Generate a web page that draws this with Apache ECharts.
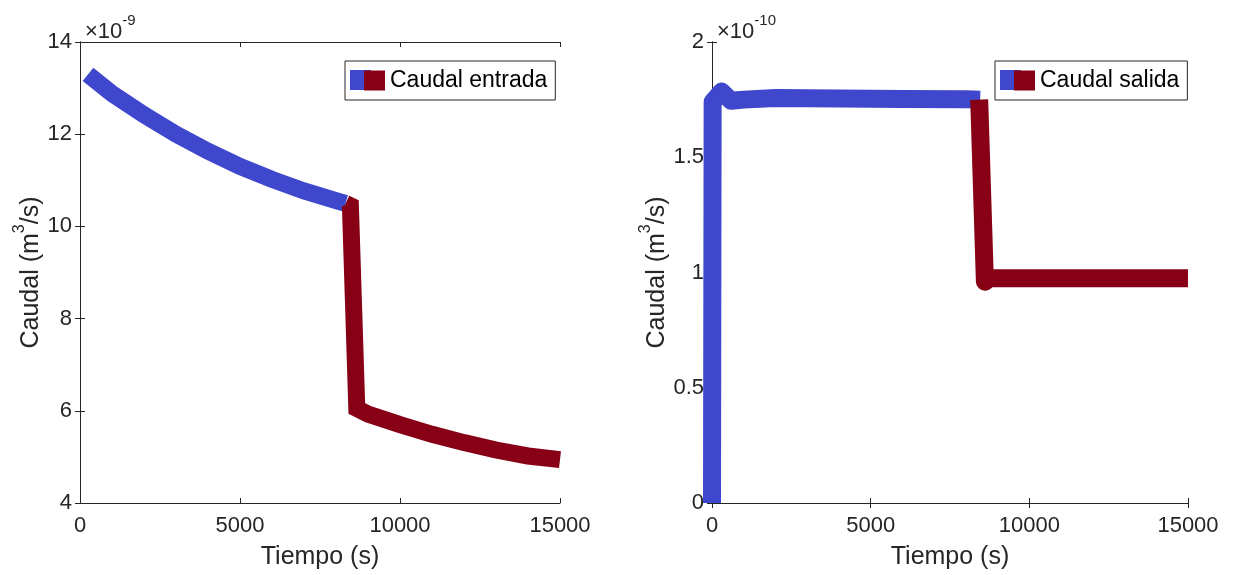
<!DOCTYPE html>
<html>
<head>
<meta charset="utf-8">
<script src="https://cdn.jsdelivr.net/npm/echarts@6/dist/echarts.min.js"></script>
<style>
  html, body { margin: 0; padding: 0; background: #ffffff; }
  #chart { width: 1233px; height: 575px; }
</style>
</head>
<body>
<div id="chart"></div>
<script>
// Time axis (s)
const timeTicks = [0, 5000, 10000, 15000];

// Inflow, values in units of 1e-9 m3/s
const entradaT1 = [250, 1000, 2000, 3000, 4000, 5000, 6000, 7000, 8000, 8300];
const entradaQ1 = [13.30, 12.88, 12.42, 12.00, 11.63, 11.30, 11.02, 10.77, 10.56, 10.50];
const entradaT2 = [8300, 8450, 8650, 9000, 10000, 11000, 12000, 13000, 14000, 15000];
const entradaQ2 = [10.50, 10.45, 6.05, 5.93, 5.70, 5.49, 5.31, 5.15, 5.02, 4.94];

// Outflow, values in units of 1e-10 m3/s
const salidaT1 = [0, 20, 300, 600, 1000, 2000, 4000, 6000, 8000, 8450];
const salidaQ1 = [0, 1.74, 1.785, 1.745, 1.75, 1.757, 1.755, 1.753, 1.752, 1.75];
const salidaT2 = [8420, 8600, 8750, 10000, 12500, 15000];
const salidaQ2 = [1.75, 0.96, 0.975, 0.975, 0.975, 0.975];

// Y tick ranges
const entradaTicks = { min: 4, max: 14, step: 2 };
const salidaTicks = { min: 0, max: 2, step: 0.5 };

const BLUE = '#3F48CC';
const RED = '#880015';
const INK = '#262626';
const FONT = '"Liberation Sans", Arial, Helvetica, sans-serif';

const pairs = (ts, qs) => ts.map((t, i) => [t, qs[i]]);
const plain = v => String(v);

const grids = [
  { left: 80, top: 42, width: 480, height: 463 },
  { left: 712, top: 42, width: 476, height: 463 }
];

function bottomAxis(gi) {
  return {
    type: 'value', gridIndex: gi, position: 'bottom',
    min: timeTicks[0], max: timeTicks[timeTicks.length - 1], interval: timeTicks[1] - timeTicks[0],
    name: 'Tiempo (s)', nameLocation: 'middle', nameGap: 42,
    nameTextStyle: { fontFamily: FONT, fontSize: 25, color: INK },
    axisLine: { show: true, lineStyle: { color: INK, width: 1 } },
    axisTick: { show: true, inside: true, length: 5, lineStyle: { color: INK } },
    axisLabel: { show: true, margin: 12, formatter: plain, fontFamily: FONT, fontSize: 22, color: INK, showMinLabel: true, showMaxLabel: true },
    splitLine: { show: false }
  };
}
function topAxis(gi) {
  return {
    type: 'value', gridIndex: gi, position: 'top',
    min: timeTicks[0], max: timeTicks[timeTicks.length - 1], interval: timeTicks[1] - timeTicks[0],
    axisLine: { show: true, lineStyle: { color: INK, width: 1 } },
    axisTick: { show: true, inside: true, length: 5, lineStyle: { color: INK } },
    axisLabel: { show: false }, splitLine: { show: false }
  };
}
const nameRich = {
  a: { fontFamily: FONT, fontSize: 25, color: INK, lineHeight: 32, verticalAlign: 'bottom' },
  s: { fontFamily: FONT, fontSize: 16, color: INK, lineHeight: 20, verticalAlign: 'top' }
};
function leftAxis(gi, r, gap) {
  return {
    type: 'value', gridIndex: gi, position: 'left',
    min: r.min, max: r.max, interval: r.step,
    name: '{a|Caudal (m}{s|3}{a|/s)}', nameLocation: 'middle', nameGap: gap,
    nameTextStyle: { rich: nameRich },
    axisLine: { show: true, lineStyle: { color: INK, width: 1 } },
    axisTick: { show: true, inside: true, length: 5, lineStyle: { color: INK } },
    axisLabel: { show: true, margin: 8, formatter: plain, fontFamily: FONT, fontSize: 22, color: INK, showMinLabel: true, showMaxLabel: true },
    splitLine: { show: false }
  };
}
function rightAxis(gi, r) {
  return {
    type: 'value', gridIndex: gi, position: 'right',
    min: r.min, max: r.max, interval: r.step,
    axisLine: { show: true, lineStyle: { color: INK, width: 1 } },
    axisTick: { show: true, inside: true, length: 5, lineStyle: { color: INK } },
    axisLabel: { show: false }, splitLine: { show: false }
  };
}

function lineSeries(name, data, color, xi, yi, width, cap, join) {
  return {
    type: 'line', name, data, xAxisIndex: xi, yAxisIndex: yi,
    color, symbol: 'none', showSymbol: false, clip: true,
    lineStyle: { color, width, cap, join },
    itemStyle: { color },
    emphasis: { disabled: true }, silent: true
  };
}

const expRich = {
  b: { fontFamily: FONT, fontSize: 22, fontWeight: 'normal', color: INK, lineHeight: 30, verticalAlign: 'bottom' },
  s: { fontFamily: FONT, fontSize: 15, fontWeight: 'normal', color: INK, lineHeight: 16, verticalAlign: 'top' }
};

function legendPair(nameBlue, nameRed, left, top) {
  const common = {
    orient: 'horizontal', itemWidth: 21, itemHeight: 20, icon: 'rect',
    selectedMode: false, backgroundColor: 'transparent',
    textStyle: { fontFamily: FONT, fontSize: 23, color: '#000' }
  };
  return [
    Object.assign({}, common, {
      data: [nameRed], left, top, z: 6,
      padding: [8, 8, 8, 19], borderColor: INK, borderWidth: 1
    }),
    Object.assign({}, common, {
      data: [nameBlue], left: left + 5, top: top + 1, z: 5,
      padding: [8, 0, 8, 0], borderWidth: 0,
      formatter: () => ''
    })
  ];
}

const option = {
  animation: false,
  backgroundColor: '#ffffff',
  title: [
    { text: '{b|×10}{s|-9}', left: 80, top: 8, textStyle: { fontWeight: 'normal', rich: expRich } },
    { text: '{b|×10}{s|-10}', left: 712, top: 8, textStyle: { fontWeight: 'normal', rich: expRich } }
  ],
  grid: grids,
  xAxis: [bottomAxis(0), topAxis(0), bottomAxis(1), topAxis(1)],
  yAxis: [leftAxis(0, entradaTicks, 36), rightAxis(0, entradaTicks), leftAxis(1, salidaTicks, 40), rightAxis(1, salidaTicks)],
  legend: [].concat(
    legendPair('Entrada, tramo inicial', 'Caudal entrada', 345, 61),
    legendPair('Salida, tramo inicial', 'Caudal salida', 995, 61)
  ),
  series: [
    lineSeries('Entrada, tramo inicial', pairs(entradaT1, entradaQ1), BLUE, 0, 0, 17, 'butt', 'miter'),
    lineSeries('Caudal entrada', pairs(entradaT2, entradaQ2), RED, 0, 0, 17, 'butt', 'miter'),
    lineSeries('Salida, tramo inicial', pairs(salidaT1, salidaQ1), BLUE, 2, 2, 18, 'butt', 'round'),
    lineSeries('Caudal salida', pairs(salidaT2, salidaQ2), RED, 2, 2, 18, 'butt', 'round')
  ]
};

echarts.init(document.getElementById('chart'), null, { renderer: 'canvas' }).setOption(option);
</script>
</body>
</html>
